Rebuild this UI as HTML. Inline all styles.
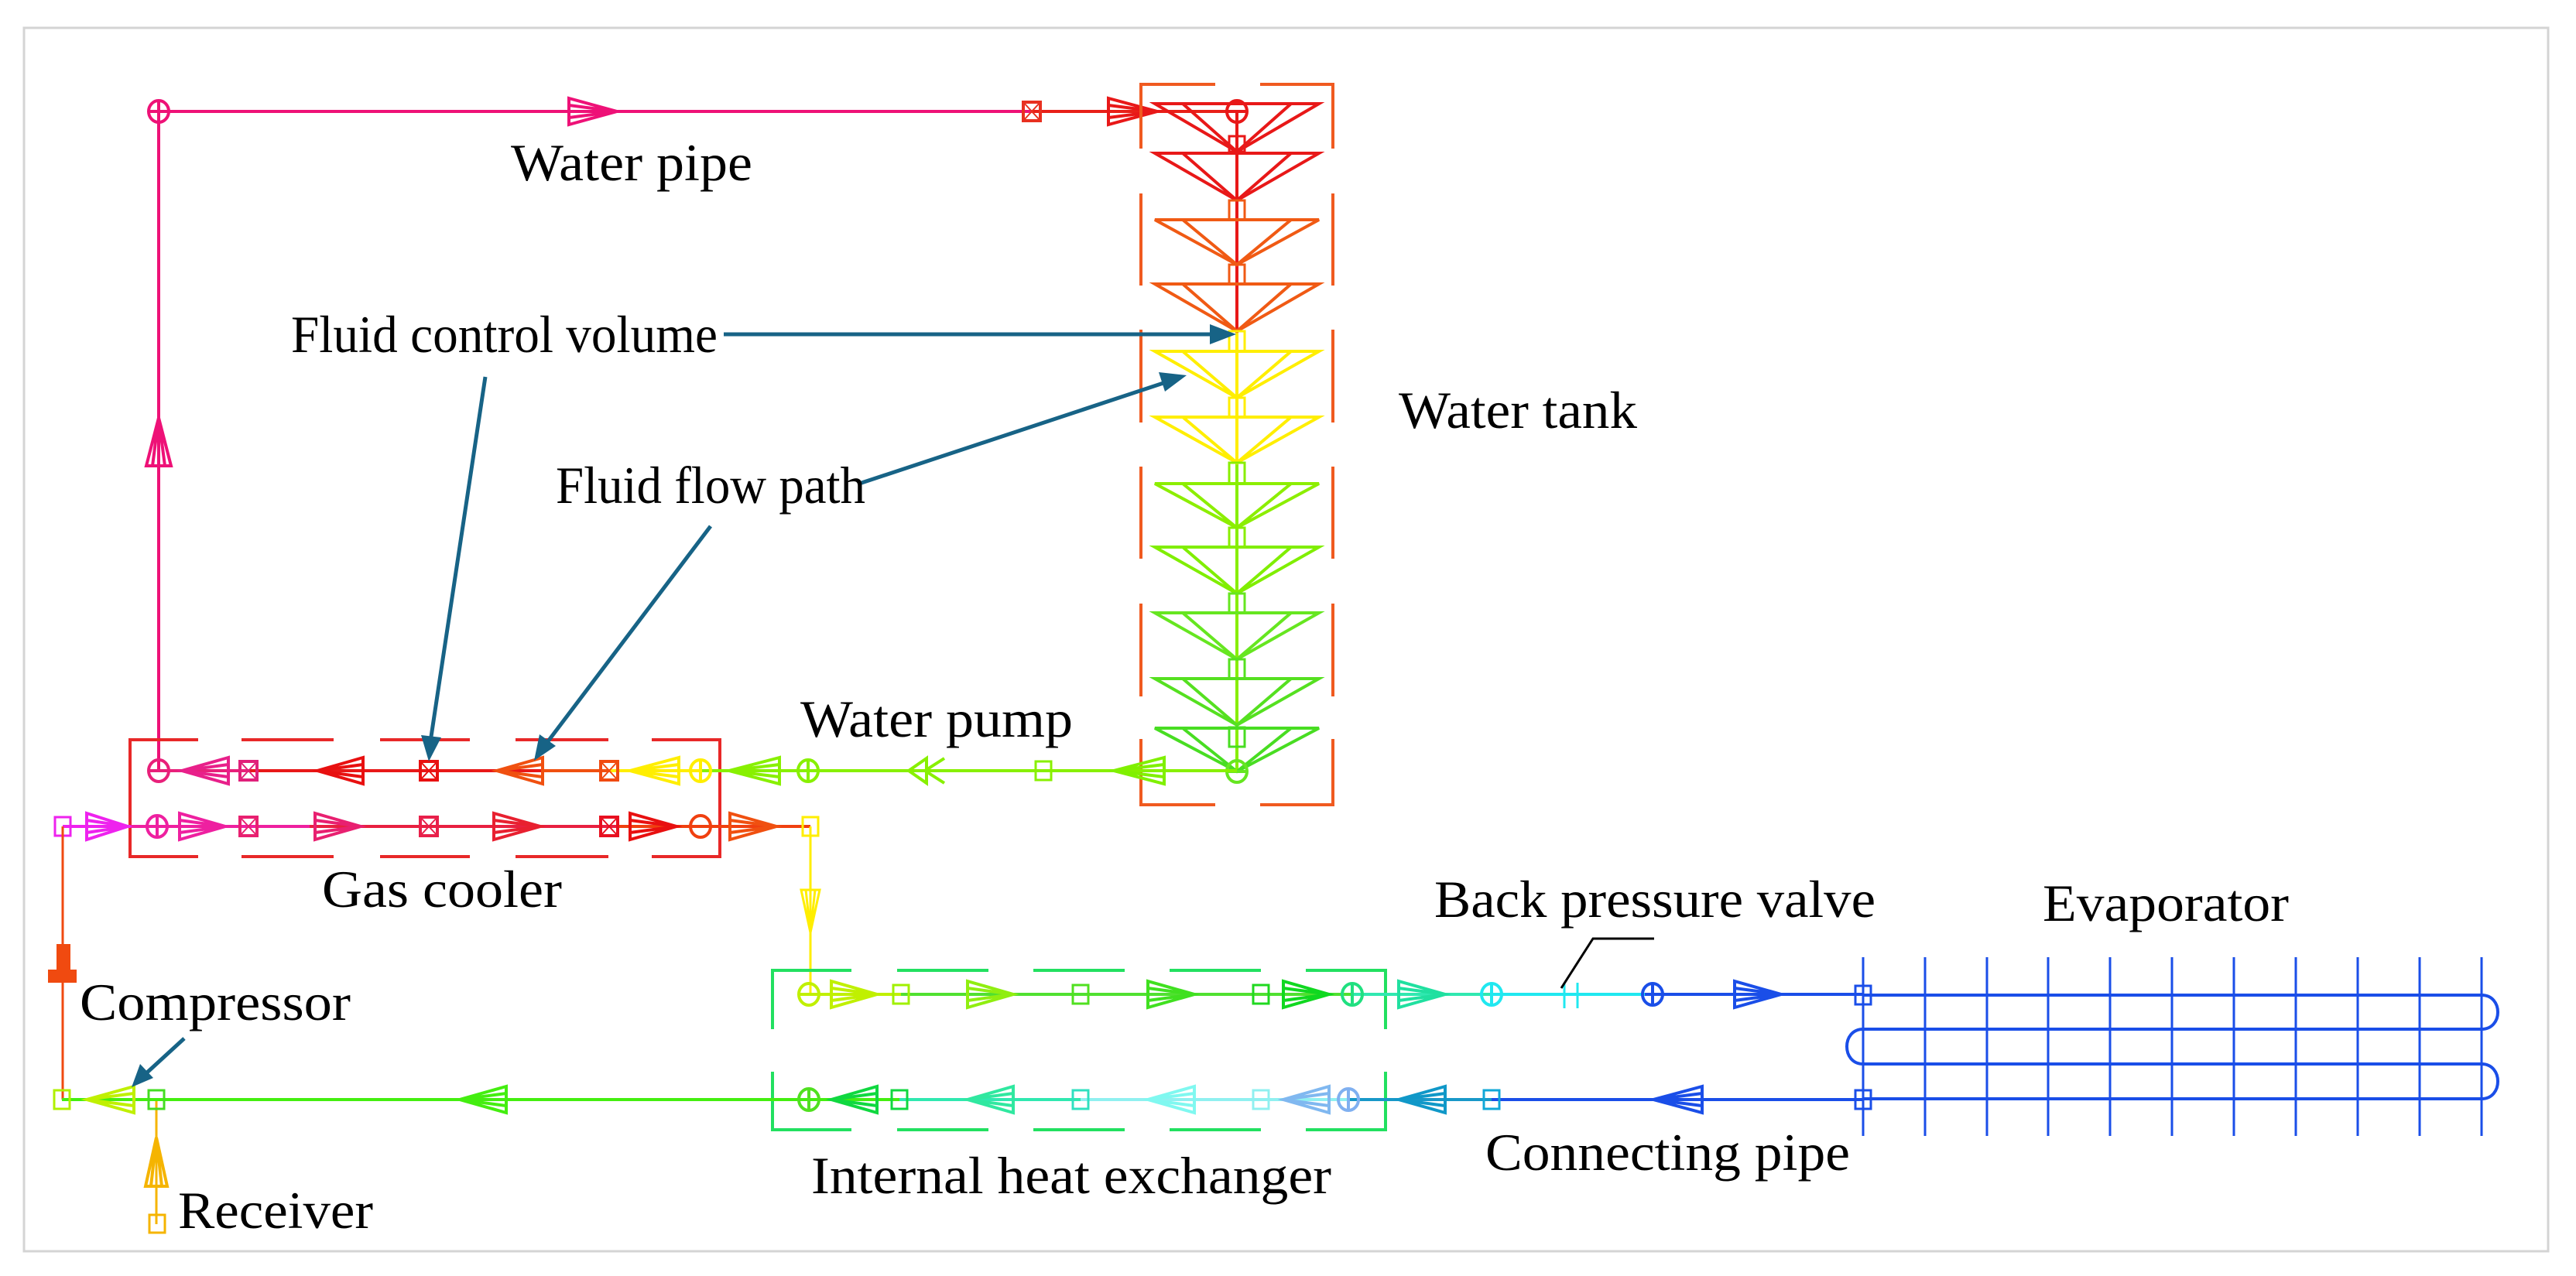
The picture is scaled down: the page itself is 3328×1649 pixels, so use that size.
<!DOCTYPE html>
<html><head><meta charset="utf-8"><style>
html,body{margin:0;padding:0;background:#fff;}
svg{display:block;}
text{font-family:"Liberation Serif",serif;font-size:68px;fill:#000;}
</style></head><body>
<svg width="3328" height="1649" viewBox="0 0 3328 1649" xmlns="http://www.w3.org/2000/svg">
<rect x="31" y="36" width="3261" height="1581" fill="none" stroke="#d4d4d4" stroke-width="3"/>
<g fill="none" stroke-width="4">
<!-- Water pipe -->
<path d="M205,996 V144 H1333" stroke="#ee1177"/>
<path d="M1333,144 H1598" stroke="#e82018"/>
<path d="M189,602 L205,540 L221,602Z M197,602 L205,540 L213,602" stroke="#ee1177"/>
<path d="M735,127 L797,144 L735,161Z M735,136 L797,144 L735,152" stroke="#ee1177"/>
<ellipse cx="205" cy="144" rx="13" ry="14" stroke="#ee1177"/><path d="M205,130V158M192,144H218" stroke="#ee1177"/>
<rect x="1322" y="132" width="22" height="24" stroke="#e83020"/><path d="M1322,132L1344,156M1344,132L1322,156" stroke="#e83020" stroke-width="2"/>
<path d="M1432,127 L1495,144 L1432,161Z M1432,136 L1495,144 L1432,152" stroke="#e81818"/>

<!-- Water tank box -->
<g stroke="#f05a20">
<path d="M1474,192V109H1570M1628,109H1722V192"/>
<path d="M1474,250V369M1722,250V369M1474,426V546M1722,426V546M1474,603V722M1722,603V722M1474,780V900M1722,780V900"/>
<path d="M1474,955V1040H1570M1628,1040H1722V955"/>
</g>
<!-- cones -->
<g>
<path d="M1598,144V997" stroke="#e81818"/>
<path d="M1598,430V997" stroke="#ffee00"/>
<path d="M1598,600V997" stroke="#88ee00"/>
<path d="M1492,134H1704L1598,196Z M1528,134L1598,196L1668,134" stroke="#e81818"/>
<path d="M1492,198H1704L1598,259Z M1528,198L1598,259L1668,198" stroke="#e81818"/>
<path d="M1492,284H1704L1598,342Z M1528,284L1598,342L1668,284" stroke="#f05a14"/>
<path d="M1492,367H1704L1598,428Z M1528,367L1598,428L1668,367" stroke="#f05a14"/>
<path d="M1492,454H1704L1598,514Z M1528,454L1598,514L1668,454" stroke="#ffee00"/>
<path d="M1492,539H1704L1598,598Z M1528,539L1598,598L1668,539" stroke="#ffee00"/>
<path d="M1492,625H1704L1598,682Z M1528,625L1598,682L1668,625" stroke="#8cee00"/>
<path d="M1492,707H1704L1598,767Z M1528,707L1598,767L1668,707" stroke="#80ee00"/>
<path d="M1492,792H1704L1598,852Z M1528,792L1598,852L1668,792" stroke="#66e620"/>
<path d="M1492,877H1704L1598,937Z M1528,877L1598,937L1668,877" stroke="#55e020"/>
<path d="M1492,941H1704L1598,997Z M1528,941L1598,997L1668,941" stroke="#48dd22"/>
<ellipse cx="1598" cy="144" rx="13" ry="14" stroke="#e81818"/><path d="M1585,144H1611" stroke="#e81818"/>
<ellipse cx="1598" cy="997" rx="13" ry="14" stroke="#66e620"/><path d="M1585,997H1611" stroke="#66e620"/>
<g stroke-width="3">
<rect x="1588" y="176" width="20" height="20" stroke="#e81818"/>
<rect x="1588" y="259" width="20" height="25" stroke="#f05a14"/>
<rect x="1588" y="342" width="20" height="25" stroke="#f05a14"/>
<rect x="1588" y="428" width="20" height="26" stroke="#ffee00"/>
<rect x="1588" y="514" width="20" height="25" stroke="#ffee00"/>
<rect x="1588" y="598" width="20" height="27" stroke="#88ee00"/>
<rect x="1588" y="682" width="20" height="25" stroke="#88ee00"/>
<rect x="1588" y="767" width="20" height="25" stroke="#66e620"/>
<rect x="1588" y="852" width="20" height="25" stroke="#55e020"/>
<rect x="1588" y="940" width="20" height="25" stroke="#48dd22"/>
</g>
</g>

<!-- Gas cooler box -->
<g stroke="#e82828">
<path d="M256,956H168V1107H256 M312,956H431M491,956H607M666,956H786M842,956H930V1107H842 M312,1107H431M491,1107H607M666,1107H786"/>
</g>
<!-- Upper row y=996 -->
<path d="M205,996H321" stroke="#e8207a"/>
<path d="M321,996H700" stroke="#e81818"/>
<path d="M700,996H787" stroke="#f05010"/>
<path d="M787,996H905" stroke="#ffee00"/>
<path d="M905,996H1598" stroke="#88f000"/>
<ellipse cx="205" cy="996" rx="13" ry="14" stroke="#e8207a"/><path d="M192,996H218" stroke="#e8207a"/>
<path d="M295,979L235,996L295,1013Z M295,988L235,996L295,1004" stroke="#e8208a"/>
<rect x="310" y="984" width="22" height="24" stroke="#e0207a"/><path d="M310,984L332,1008M332,984L310,1008" stroke="#e0207a" stroke-width="2"/>
<path d="M469,979L410,996L469,1013Z M469,988L410,996L469,1004" stroke="#e81010"/>
<rect x="543" y="984" width="22" height="24" stroke="#e81010"/><path d="M543,984L565,1008M565,984L543,1008" stroke="#e81010" stroke-width="2"/>
<path d="M701,979L642,996L701,1013Z M701,988L642,996L701,1004" stroke="#f05010"/>
<rect x="776" y="984" width="22" height="24" stroke="#f04a10"/><path d="M776,984L798,1008M798,984L776,1008" stroke="#f04a10" stroke-width="2"/>
<path d="M877,979L814,996L877,1013Z M877,988L814,996L877,1004" stroke="#ffee00"/>
<ellipse cx="905" cy="996" rx="13" ry="14" stroke="#ffee00"/><path d="M905,982V1010" stroke="#ffee00"/>
<path d="M1007,979L942,996L1007,1013Z M1007,988L942,996L1007,1004" stroke="#88f000"/>
<ellipse cx="1044" cy="996" rx="13" ry="14" stroke="#88f000"/><path d="M1044,982V1010" stroke="#88f000"/>
<path d="M1197,980L1174,996L1197,1012Z M1220,980L1195,996L1220,1012" stroke="#88f000"/>
<rect x="1338" y="984" width="20" height="24" stroke="#88f000" stroke-width="3"/>
<path d="M1504,979L1439,996L1504,1013Z M1504,988L1439,996L1504,1004" stroke="#80f000"/>

<!-- Lower row y=1068 -->
<path d="M81,1068H168" stroke="#ee22ee"/>
<path d="M168,1068H400" stroke="#ee20a0"/>
<path d="M400,1068H800" stroke="#e82040"/>
<path d="M800,1068H1047" stroke="#f04010"/>
<rect x="71" y="1056" width="20" height="24" stroke="#ee22ee" stroke-width="3"/>
<path d="M112,1051L165,1068L112,1085Z M112,1060L165,1068L112,1076" stroke="#ee22ee"/>
<ellipse cx="203" cy="1068" rx="13" ry="14" stroke="#ee20a0"/><path d="M190,1068H216M203,1054V1082" stroke="#ee20a0"/>
<path d="M232,1051L291,1068L232,1085Z M232,1060L291,1068L232,1076" stroke="#ee20a0"/>
<rect x="310" y="1056" width="22" height="24" stroke="#e82070"/><path d="M310,1056L332,1080M332,1056L310,1080" stroke="#e82070" stroke-width="2"/>
<path d="M407,1051L466,1068L407,1085Z M407,1060L466,1068L407,1076" stroke="#e82070"/>
<rect x="543" y="1056" width="22" height="24" stroke="#e8204a"/><path d="M543,1056L565,1080M565,1056L543,1080" stroke="#e8204a" stroke-width="2"/>
<path d="M638,1051L698,1068L638,1085Z M638,1060L698,1068L638,1076" stroke="#e82030"/>
<rect x="776" y="1056" width="22" height="24" stroke="#e81020"/><path d="M776,1056L798,1080M798,1056L776,1080" stroke="#e81020" stroke-width="2"/>
<path d="M814,1051L874,1068L814,1085Z M814,1060L874,1068L814,1076" stroke="#e81010"/>
<ellipse cx="905" cy="1068" rx="13" ry="14" stroke="#f04010"/><path d="M892,1068H918" stroke="#f04010"/>
<path d="M943,1051L1003,1068L943,1085Z M943,1060L1003,1068L943,1076" stroke="#f05010"/>
<path d="M1047,1068V1285" stroke="#ffee00" stroke-width="3"/>
<rect x="1037" y="1056" width="20" height="24" stroke="#ffee00" stroke-width="3"/>
<path d="M1035,1150L1047,1205L1059,1150Z M1041,1150L1047,1205L1053,1150" stroke="#ffee00" stroke-width="3"/>

<!-- Compressor / receiver -->
<path d="M81,1068V1421" stroke="#f04a10" stroke-width="3"/>
<polygon points="73,1220 91,1220 91,1253 99,1253 99,1270 62,1270 62,1253 73,1253" fill="#f04a10" stroke="none"/>
<path d="M202,1421V1582" stroke="#f5b400" stroke-width="3"/>
<path d="M188,1533L202,1470L216,1533Z M195,1533L202,1470L209,1533" stroke="#f5b400"/>
<rect x="193" y="1570" width="20" height="23" stroke="#f5b400" stroke-width="3"/>

<!-- IHX box -->
<path d="M998,1330V1254H1100M1159,1254H1277M1335,1254H1453M1511,1254H1629M1687,1254H1790V1330 M998,1385V1460H1100M1159,1460H1277M1335,1460H1453M1511,1460H1629M1687,1460H1790V1385" stroke="#22e060"/>

<!-- IHX upper row y=1285 -->
<path d="M1045,1285H1164" stroke="#c0f000"/>
<path d="M1164,1285H1747" stroke="#50e030"/>
<path d="M1747,1285H1927" stroke="#30e8b0"/>
<path d="M1927,1285H2125" stroke="#20e8f0"/>
<path d="M2125,1285H2407" stroke="#1a4ee8"/>
<ellipse cx="1045" cy="1285" rx="13" ry="14" stroke="#c0f000"/><path d="M1032,1285H1058" stroke="#c0f000"/>
<path d="M1074,1268L1133,1285L1074,1302Z M1074,1277L1133,1285L1074,1293" stroke="#c0f000"/>
<rect x="1154" y="1273" width="20" height="24" stroke="#a0f000" stroke-width="3"/>
<path d="M1250,1268L1309,1285L1250,1302Z M1250,1277L1309,1285L1250,1293" stroke="#90ee10"/>
<rect x="1386" y="1273" width="20" height="24" stroke="#50e020" stroke-width="3"/>
<path d="M1483,1268L1543,1285L1483,1302Z M1483,1277L1543,1285L1483,1293" stroke="#40e020"/>
<rect x="1619" y="1273" width="20" height="24" stroke="#20d820" stroke-width="3"/>
<path d="M1658,1268L1717,1285L1658,1302Z M1658,1277L1717,1285L1658,1293" stroke="#10d820"/>
<ellipse cx="1747" cy="1285" rx="13" ry="14" stroke="#20e080"/><path d="M1747,1271V1299" stroke="#20e080"/>
<path d="M1807,1268L1867,1285L1807,1302Z M1807,1277L1867,1285L1807,1293" stroke="#20e0a0"/>
<ellipse cx="1927" cy="1285" rx="13" ry="14" stroke="#20e8f0"/><path d="M1927,1271V1299" stroke="#20e8f0"/>
<path d="M2021,1270V1303M2038,1270V1303" stroke="#20e8f0" stroke-width="3"/>
<ellipse cx="2135" cy="1285" rx="13" ry="14" stroke="#1a4ee8"/><path d="M2135,1271V1299" stroke="#1a4ee8"/>
<path d="M2241,1268L2301,1285L2241,1302Z M2241,1277L2301,1285L2241,1293" stroke="#1a4ee8"/>

<!-- IHX lower row y=1421 -->
<path d="M1927,1421H2407" stroke="#1a4ee8"/>
<path d="M1742,1421H1927" stroke="#1898c8"/>
<path d="M1396,1421H1742" stroke="#90f0f0"/>
<path d="M1162,1421H1396" stroke="#30e8b0"/>
<path d="M80,1421H1162" stroke="#44ee10"/>
<path d="M2199,1404L2136,1421L2199,1438Z M2199,1413L2136,1421L2199,1429" stroke="#1a4ee8"/>
<rect x="1917" y="1409" width="20" height="24" stroke="#10a8d8" stroke-width="3"/>
<path d="M1867,1404L1807,1421L1867,1438Z M1867,1413L1807,1421L1867,1429" stroke="#1098c8"/>
<ellipse cx="1742" cy="1421" rx="13" ry="14" stroke="#80b0f0"/><path d="M1742,1407V1435" stroke="#80b0f0"/>
<path d="M1717,1404L1658,1421L1717,1438Z M1717,1413L1658,1421L1717,1429" stroke="#80b8f0"/>
<rect x="1619" y="1409" width="20" height="24" stroke="#90f0f0" stroke-width="3"/>
<path d="M1543,1404L1483,1421L1543,1438Z M1543,1413L1483,1421L1543,1429" stroke="#80f8f0"/>
<rect x="1386" y="1409" width="20" height="24" stroke="#30e0c0" stroke-width="3"/>
<path d="M1309,1404L1250,1421L1309,1438Z M1309,1413L1250,1421L1309,1429" stroke="#30e8a0"/>
<rect x="1152" y="1409" width="20" height="24" stroke="#10d840" stroke-width="3"/>
<path d="M1133,1404L1074,1421L1133,1438Z M1133,1413L1074,1421L1133,1429" stroke="#10d840"/>
<ellipse cx="1045" cy="1421" rx="13" ry="14" stroke="#50e020"/><path d="M1045,1407V1435" stroke="#50e020"/>
<path d="M654,1404L594,1421L654,1438Z M654,1413L594,1421L654,1429" stroke="#44ee10"/>
<rect x="192" y="1409" width="20" height="24" stroke="#44dd22" stroke-width="3"/>
<path d="M173,1404L112,1421L173,1438Z M173,1413L112,1421L173,1429" stroke="#c0f000"/>
<rect x="70" y="1409" width="20" height="24" stroke="#b0f000" stroke-width="3"/>

<!-- Evaporator -->
<g stroke="#1a4ee8" stroke-width="3">
<path d="M2407,1237V1468M2487,1237V1468M2567,1237V1468M2646,1237V1468M2726,1237V1468M2806,1237V1468M2886,1237V1468M2966,1237V1468M3046,1237V1468M3126,1237V1468M3206,1237V1468"/>
<path d="M2407,1286H3206C3234,1286 3234,1330 3206,1330H2407C2379,1330 2379,1375 2407,1375H3206C3234,1375 3234,1420 3206,1420H2407" stroke-width="4"/>
<rect x="2397" y="1274" width="20" height="24"/>
<rect x="2397" y="1409" width="20" height="24"/>
</g>
</g>

<!-- annotation arrows -->
<g stroke="#176386" stroke-width="5" fill="#176386">
<path d="M935,432H1565" fill="none"/><polygon points="1597,432 1563,419 1563,445" stroke="none"/>
<path d="M1110,625L1503,495" fill="none"/><polygon points="1533,485 1497,481 1505,506" stroke="none"/>
<path d="M627,487L557,952" fill="none"/><polygon points="554,984 544,950 570,953" stroke="none"/>
<path d="M918,680L708,958" fill="none"/><polygon points="690,983 697,949 718,964" stroke="none"/>
<path d="M238,1342L190,1386" fill="none"/><polygon points="170,1405 181,1375 198,1393" stroke="none"/>
</g>
<path d="M2017,1277L2058,1213H2137" fill="none" stroke="#000" stroke-width="3"/>

<!-- labels -->
<text x="660" y="233" textLength="312" lengthAdjust="spacingAndGlyphs">Water pipe</text>
<text x="376" y="455" textLength="551" lengthAdjust="spacingAndGlyphs">Fluid control volume</text>
<text x="718" y="650" textLength="400" lengthAdjust="spacingAndGlyphs">Fluid flow path</text>
<text x="1807" y="553" textLength="308" lengthAdjust="spacingAndGlyphs">Water tank</text>
<text x="1034" y="952" textLength="352" lengthAdjust="spacingAndGlyphs">Water pump</text>
<text x="416" y="1172" textLength="310" lengthAdjust="spacingAndGlyphs">Gas cooler</text>
<text x="103" y="1318" textLength="350" lengthAdjust="spacingAndGlyphs">Compressor</text>
<text x="230" y="1587" textLength="252" lengthAdjust="spacingAndGlyphs">Receiver</text>
<text x="1048" y="1542" textLength="672" lengthAdjust="spacingAndGlyphs">Internal heat exchanger</text>
<text x="1853" y="1185" textLength="570" lengthAdjust="spacingAndGlyphs">Back pressure valve</text>
<text x="2639" y="1190" textLength="318" lengthAdjust="spacingAndGlyphs">Evaporator</text>
<text x="1919" y="1512" textLength="471" lengthAdjust="spacingAndGlyphs">Connecting pipe</text>
</svg>
</body></html>
